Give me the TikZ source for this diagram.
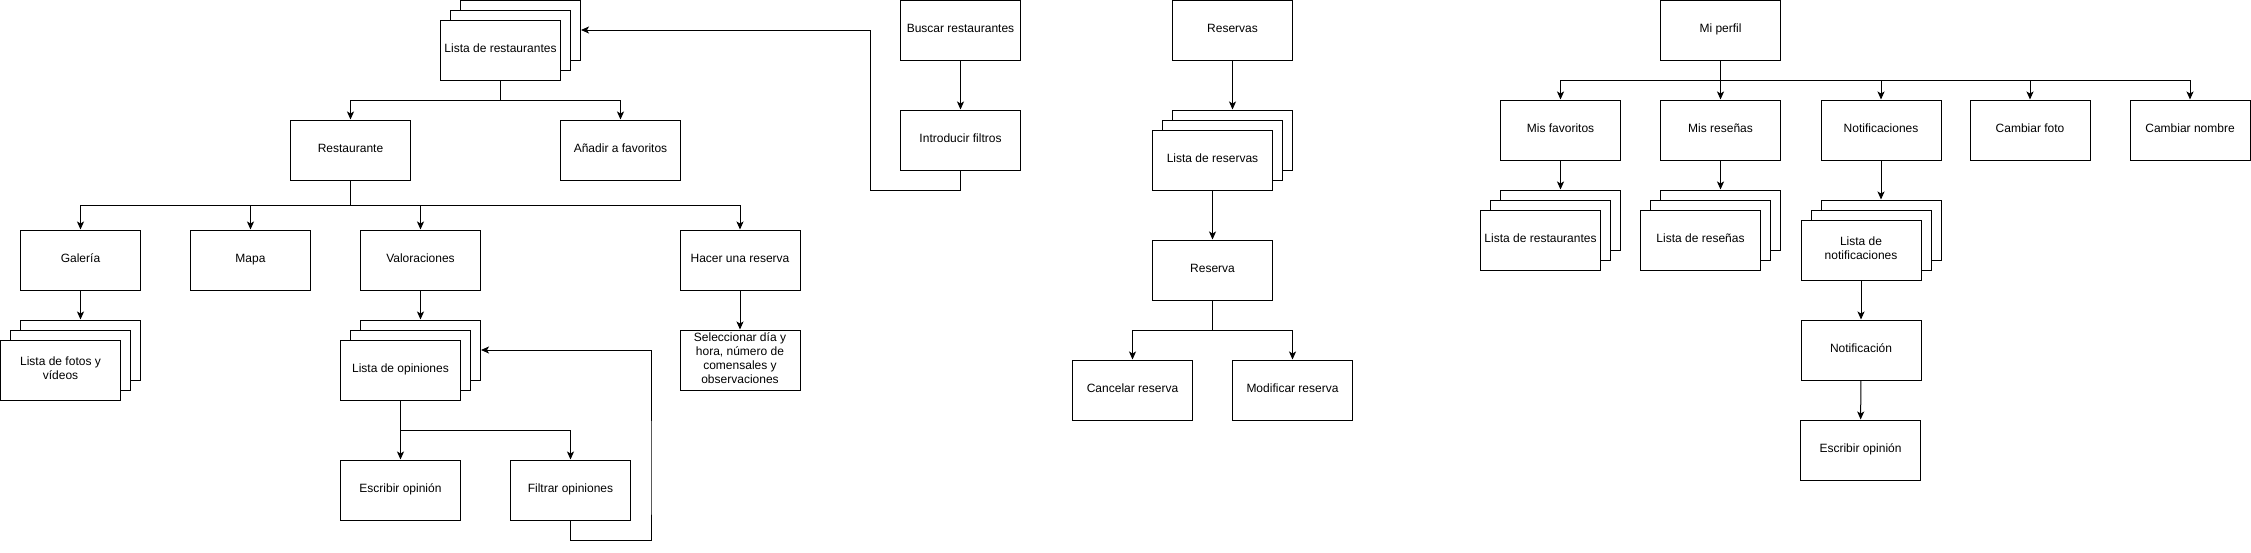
\documentclass[tikz,border=0pt]{standalone}
\usepackage{fontspec}
\setmainfont{Liberation Sans}
\usetikzlibrary{arrows.meta}
\tikzset{>={Stealth[length=8pt,width=7pt,inset=2pt]}}
\tikzset{caja/.style={draw, fill=white, line width=1pt, minimum width=120pt, minimum height=60pt, inner sep=2pt, align=center, font=\fontsize{12}{14}\selectfont, execute at begin node=\strut, execute at end node=\strut}}
\newcommand{\pila}[4]{%
  \node[caja] (#1-b2) at ({#2+20},{#3-20}) {};
  \node[caja] (#1-b1) at ({#2+10},{#3-10}) {};
  \node[caja] (#1) at (#2,#3) {#4};}

\begin{document}
\begin{tikzpicture}[x=1pt, y=-1pt, line width=1pt]
\useasboundingbox (0,0) rectangle (2251,552);

\pila{lrest}{500.5}{50}{Lista de restaurantes}
\node[caja] (rest) at (350.5,150) {Restaurante};
\node[caja] (fav) at (620.5,150) {Añadir a favoritos};
\node[caja] (gal) at (80.5,260) {Galería};
\node[caja] (mapa) at (250.5,260) {Mapa};
\node[caja] (val) at (420.5,260) {Valoraciones};
\node[caja] (hacer) at (740,260) {Hacer una reserva};
\pila{fotos}{60.5}{370}{Lista de fotos y\\vídeos}
\pila{lopin}{400.5}{370}{Lista de opiniones}
\node[caja] (escr) at (400.5,490) {Escribir opinión};
\node[caja] (filt) at (570.5,490) {Filtrar opiniones};
\node[caja] (sel) at (740,360) {Seleccionar día y\\hora, número de\\comensales y\\observaciones};
\node[caja] (busc) at (960.5,30) {Buscar restaurantes};
\node[caja] (intro) at (960.5,140) {Introducir filtros};

\node[caja] (resv) at (1232.5,30) {Reservas};
\pila{lresv}{1212.5}{160}{Lista de reservas}
\node[caja] (reserva) at (1212.5,270) {Reserva};
\node[caja] (canc) at (1132.5,390) {Cancelar reserva};
\node[caja] (modif) at (1292.5,390) {Modificar reserva};

\node[caja] (perfil) at (1720.5,30) {Mi perfil};
\node[caja] (misfav) at (1560.5,130) {Mis favoritos};
\node[caja] (misres) at (1720.5,130) {Mis reseñas};
\node[caja] (notifs) at (1881,130) {Notificaciones};
\node[caja] (foto) at (2030,130) {Cambiar foto};
\node[caja] (nombre) at (2190,130) {Cambiar nombre};
\pila{lfav}{1540.5}{240}{Lista de restaurantes}
\pila{lresn}{1700.5}{240}{Lista de reseñas}
\pila{lnotif}{1861}{250}{Lista de\\notificaciones}
\node[caja] (notif) at (1861,350) {Notificación};
\node[caja] (escr2) at (1860.5,450) {Escribir opinión};

\draw[->] (lrest.south) -- ++(0,20) -| (rest);
\draw[->] (lrest.south) -- ++(0,20) -| (fav);
\foreach \n in {gal, mapa, val, hacer}
  \draw[->] (rest.south) -- ++(0,25) -| (\n);
\draw[->] (gal) -- (fotos-b2);
\draw[->] (val) -- (lopin-b2);
\draw[->] (lopin.south) -- ++(0,30) -| (escr);
\draw[->] (lopin.south) -- ++(0,30) -| (filt);
\draw[->] (filt.south) -- ++(0,20) -| ([xshift=20pt]filt.east) |- (lopin-b2.east);
\draw[->] (hacer) -- (sel);
\draw[->] (busc) -- (intro);
\draw[->] (intro.south) -- ++(0,20) -| ([xshift=-30pt]busc.west) |- (lrest-b2.east);

\draw[->] (resv) -- (lresv-b2);
\draw[->] (lresv) -- (reserva);
\draw[->] (reserva.south) -- ++(0,30) -| (canc);
\draw[->] (reserva.south) -- ++(0,30) -| (modif);

\foreach \n in {misfav, misres, notifs, foto, nombre}
  \draw[->] (perfil.south) -- ++(0,20) -| (\n);
\draw[->] (misfav) -- (lfav-b2);
\draw[->] (misres) -- (lresn-b2);
\draw[->] (notifs) -- (lnotif-b2);
\draw[->] (lnotif) -- (notif);
\draw[->] (notif) -- (escr2);
\end{tikzpicture}
\end{document}
